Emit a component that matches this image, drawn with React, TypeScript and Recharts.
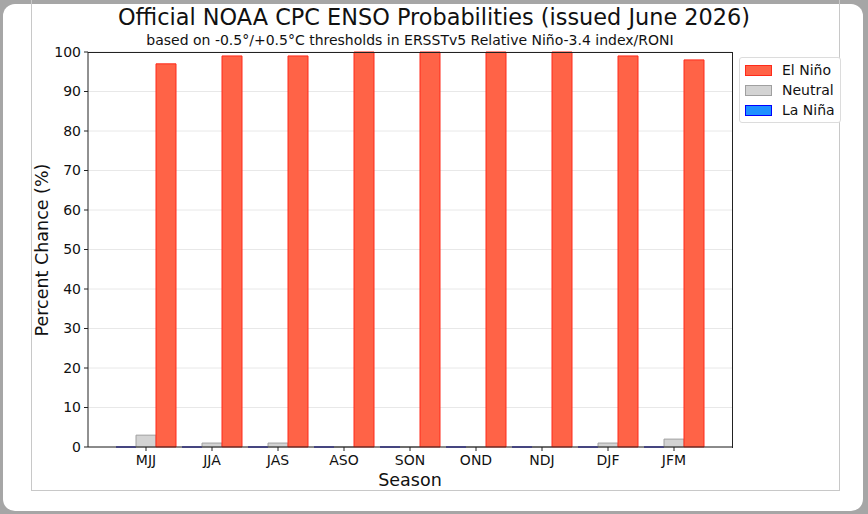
import { BarChart, Bar, XAxis, YAxis, CartesianGrid } from 'recharts'

const seasons = ['MJJ', 'JJA', 'JAS', 'ASO', 'SON', 'OND', 'NDJ', 'DJF', 'JFM']
const elNino = [97, 99, 99, 100, 100, 100, 100, 99, 98]
const neutral = [3, 1, 1, 0, 0, 0, 0, 1, 2]
const laNina = [0, 0, 0, 0, 0, 0, 0, 0, 0]
const yTicks = [0, 10, 20, 30, 40, 50, 60, 70, 80, 90, 100]

const data = seasons.map((season, i) => ({
  season,
  laNina: laNina[i],
  neutral: neutral[i],
  elNino: elNino[i],
}))

const legendItems = [
  { name: 'El Niño', fill: '#ff6347', stroke: '#ff2a1a' },
  { name: 'Neutral', fill: '#d3d3d3', stroke: '#a0a0a0' },
  { name: 'La Niña', fill: '#1e90ff', stroke: '#0000ff' },
]

const font = '"DejaVu Sans", sans-serif'
const tickStyle = { fontSize: 14, fill: '#111', fontFamily: font }

// draws zero-height bars too (as a flat line), like matplotlib does
const FlatBar = (props: any) => {
  const { x, y, width, height, fill, stroke } = props
  return (
    <path
      d={`M${x},${y + height} V${y} H${x + width} V${y + height} Z`}
      fill={fill}
      stroke={stroke}
      strokeWidth={1}
    />
  )
}

export default function App() {
  return (
    <div style={{ position: 'absolute', left: 0, top: 0, width: 868, height: 514, background: '#a6a6a6', overflow: 'hidden' }}>
      <div style={{ position: 'absolute', left: 3, top: 4, width: 860, height: 507, background: '#fff', borderRadius: 12 }} />
      <div style={{ position: 'absolute', left: 31, top: -2, width: 807, height: 492, border: '1px solid #c8c8c8', borderTop: 'none' }} />

      <div style={{ position: 'absolute', left: 0, top: 4, width: 868, textAlign: 'center', fontFamily: font, fontSize: 22.4, color: '#111' }}>
        Official NOAA CPC ENSO Probabilities (issued June 2026)
      </div>
      <div style={{ position: 'absolute', left: 88, top: 32, width: 644, textAlign: 'center', fontFamily: font, fontSize: 14, color: '#111' }}>
        based on -0.5°/+0.5°C thresholds in ERSSTv5 Relative Niño-3.4 index/RONI
      </div>
      <div style={{ position: 'absolute', left: 88, top: 470, width: 644, textAlign: 'center', fontFamily: font, fontSize: 17.5, color: '#111' }}>
        Season
      </div>
      <div style={{
        position: 'absolute', left: 42, top: 250, width: 300, textAlign: 'center', fontFamily: font, fontSize: 17.5,
        color: '#111', transform: 'translate(-50%, -50%) rotate(-90deg)', lineHeight: '20px',
      }}>
        Percent Chance (%)
      </div>

      <div style={{ position: 'absolute', left: 0, top: 0 }}>
        <BarChart width={868} height={514} data={data} barSize={20} barGap={0}
          margin={{ top: 52, right: 136, left: 38, bottom: 37 }}>
          <CartesianGrid vertical={false} stroke="#e8e8e8" />
          <XAxis dataKey="season" padding={{ left: 25, right: 25 }} height={30} tick={tickStyle}
            tickSize={4} tickMargin={4} axisLine={{ stroke: '#222' }} tickLine={{ stroke: '#222' }} />
          <YAxis domain={[0, 100]} ticks={yTicks} interval={0} width={50} tick={tickStyle}
            tickSize={4} tickMargin={3} axisLine={{ stroke: '#222' }} tickLine={{ stroke: '#222' }} />
          <Bar dataKey="laNina" name="La Niña" fill="#1e90ff" stroke="#3b3bd6" shape={FlatBar} isAnimationActive={false} />
          <Bar dataKey="neutral" name="Neutral" fill="#d3d3d3" stroke="#a0a0a0" shape={FlatBar} isAnimationActive={false} />
          <Bar dataKey="elNino" name="El Niño" fill="#ff6347" stroke="#ff2a1a" shape={FlatBar} isAnimationActive={false} />
        </BarChart>
      </div>

      {/* plot frame (top and right spines) */}
      <div style={{ position: 'absolute', left: 88, top: 51.5, width: 644, height: 395, borderTop: '1px solid #222', borderRight: '1px solid #222', pointerEvents: 'none' }} />

      <div style={{
        position: 'absolute', left: 739, top: 57, border: '1px solid #dcdcdc', borderRadius: 3, background: '#fff',
        padding: '2px 5px 2px 5px', fontFamily: font, fontSize: 14, color: '#111', whiteSpace: 'nowrap',
      }}>
        {legendItems.map((it) => (
          <div key={it.name} style={{ display: 'flex', alignItems: 'center', height: 20 }}>
            <span style={{
              display: 'inline-block', width: 25, height: 9, background: it.fill,
              border: `1px solid ${it.stroke}`, marginRight: 10,
            }} />
            <span>{it.name}</span>
          </div>
        ))}
      </div>
    </div>
  )
}
